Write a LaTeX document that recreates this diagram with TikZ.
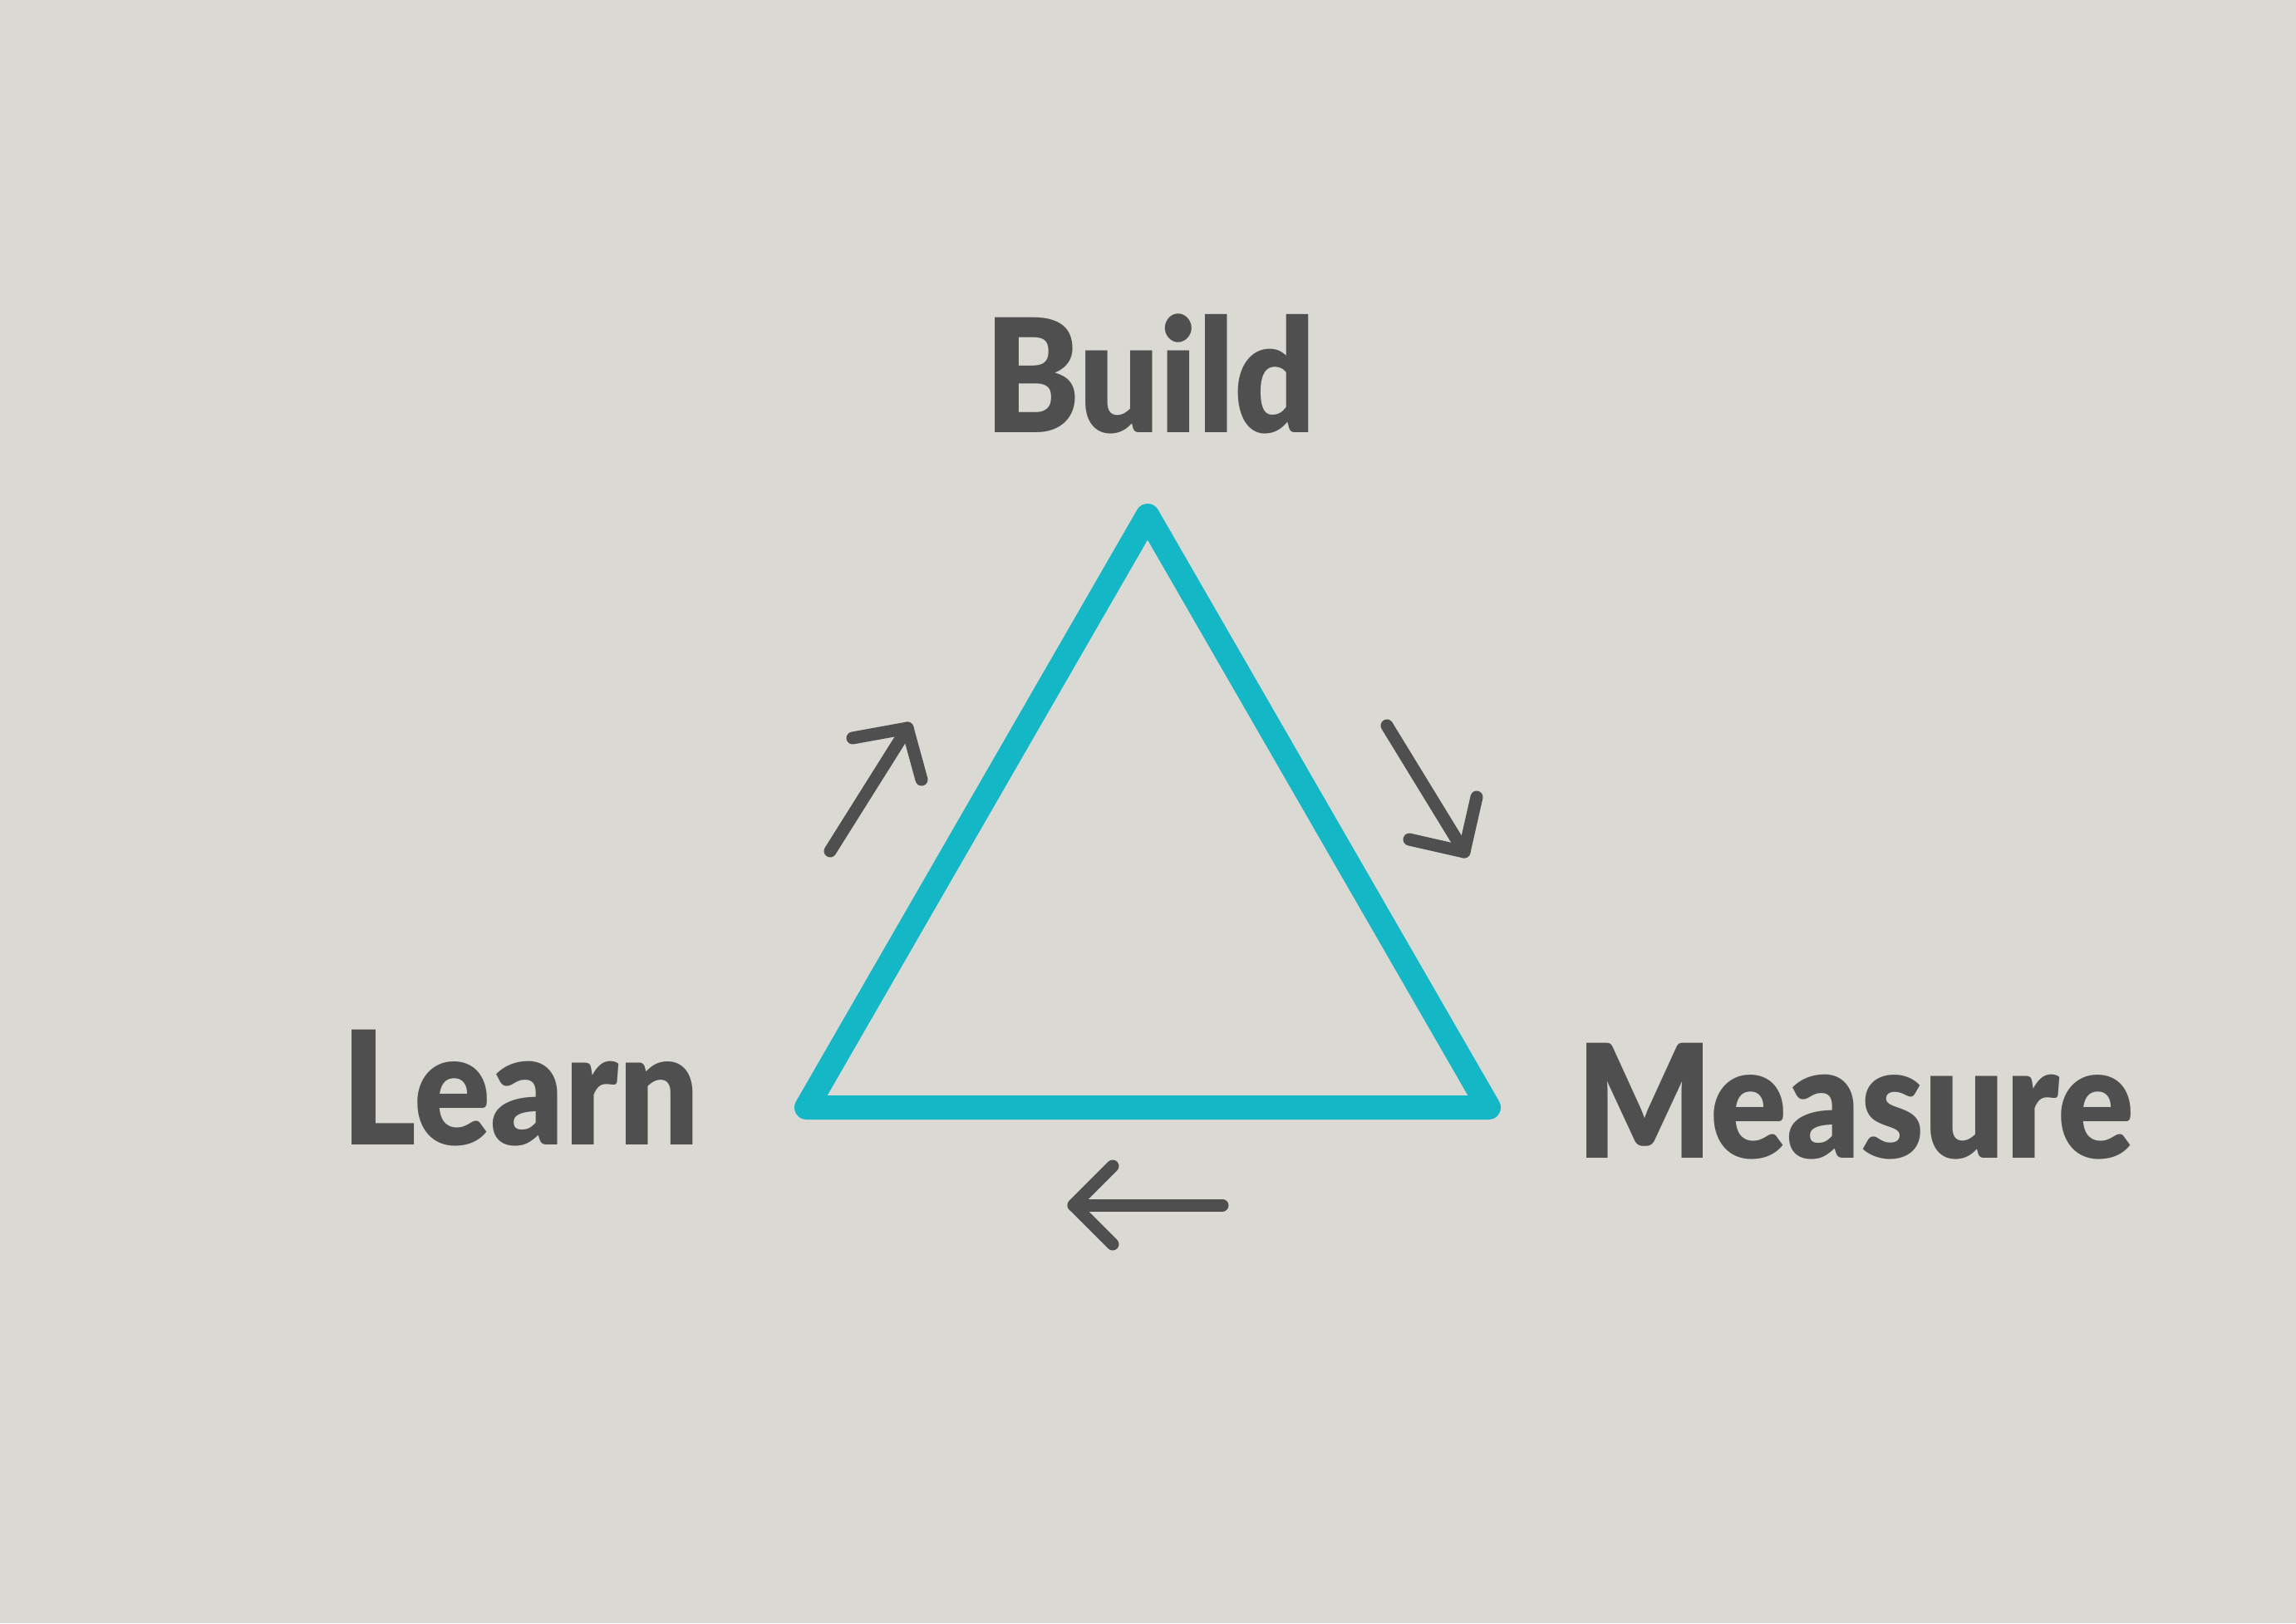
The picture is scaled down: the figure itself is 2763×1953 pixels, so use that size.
\documentclass[tikz,border=0pt]{standalone}
\usepackage{fontspec}
\setmainfont{Lato}[BoldFont={Lato Black},FakeStretch=0.9]
\definecolor{paper}{RGB}{218,217,212}
\definecolor{ink}{RGB}{79,79,79}
\definecolor{teal}{RGB}{19,183,198}
\begin{document}
\begin{tikzpicture}[x=0.01cm,y=-0.01cm,
  label/.style={inner sep=0pt,anchor=base,text=ink,font=\fontsize{54}{60}\selectfont\bfseries},
  cycleedge/.style={draw=teal,line width=29*0.01cm,line join=round,line cap=round},
  flow/.style={draw=ink,line width=15*0.01cm,line join=round,line cap=round}]
  % canvas
  \fill[paper] (0,0) rectangle (2763,1953);
  \useasboundingbox (0,0) rectangle (2763,1953);

  % triangle corners
  \coordinate (top) at (1381,620.5);
  \coordinate (bl) at (970.5,1332.5);
  \coordinate (br) at (1791.5,1332.5);
  \draw[cycleedge] (top) -- (br) -- (bl) -- cycle;

  % stage labels
  \node[label] (build) at (1384.5,520) {Build};
  \node[label] (learn) at (626.5,1377) {Learn};
  \node[label] (measure) at (2233,1393) {Measure};

  % flow arrows
  \coordinate (a1t) at (999,1024);
  \coordinate (a1h) at (1092,876);
  \coordinate (a1l) at (1026,888);
  \coordinate (a1r) at (1109,938);
  \draw[flow] (a1t) -- (a1h);
  \draw[flow] (a1l) -- (a1h) -- (a1r);

  \coordinate (a2t) at (1669,873);
  \coordinate (a2h) at (1762,1025);
  \coordinate (a2l) at (1696,1010);
  \coordinate (a2r) at (1777,959);
  \draw[flow] (a2t) -- (a2h);
  \draw[flow] (a2l) -- (a2h) -- (a2r);

  \coordinate (a3t) at (1471,1450);
  \coordinate (a3h) at (1292,1450);
  \coordinate (a3u) at (1339,1403);
  \coordinate (a3d) at (1339,1497);
  \draw[flow] (a3t) -- (a3h);
  \draw[flow] (a3u) -- (a3h) -- (a3d);
\end{tikzpicture}
\end{document}
